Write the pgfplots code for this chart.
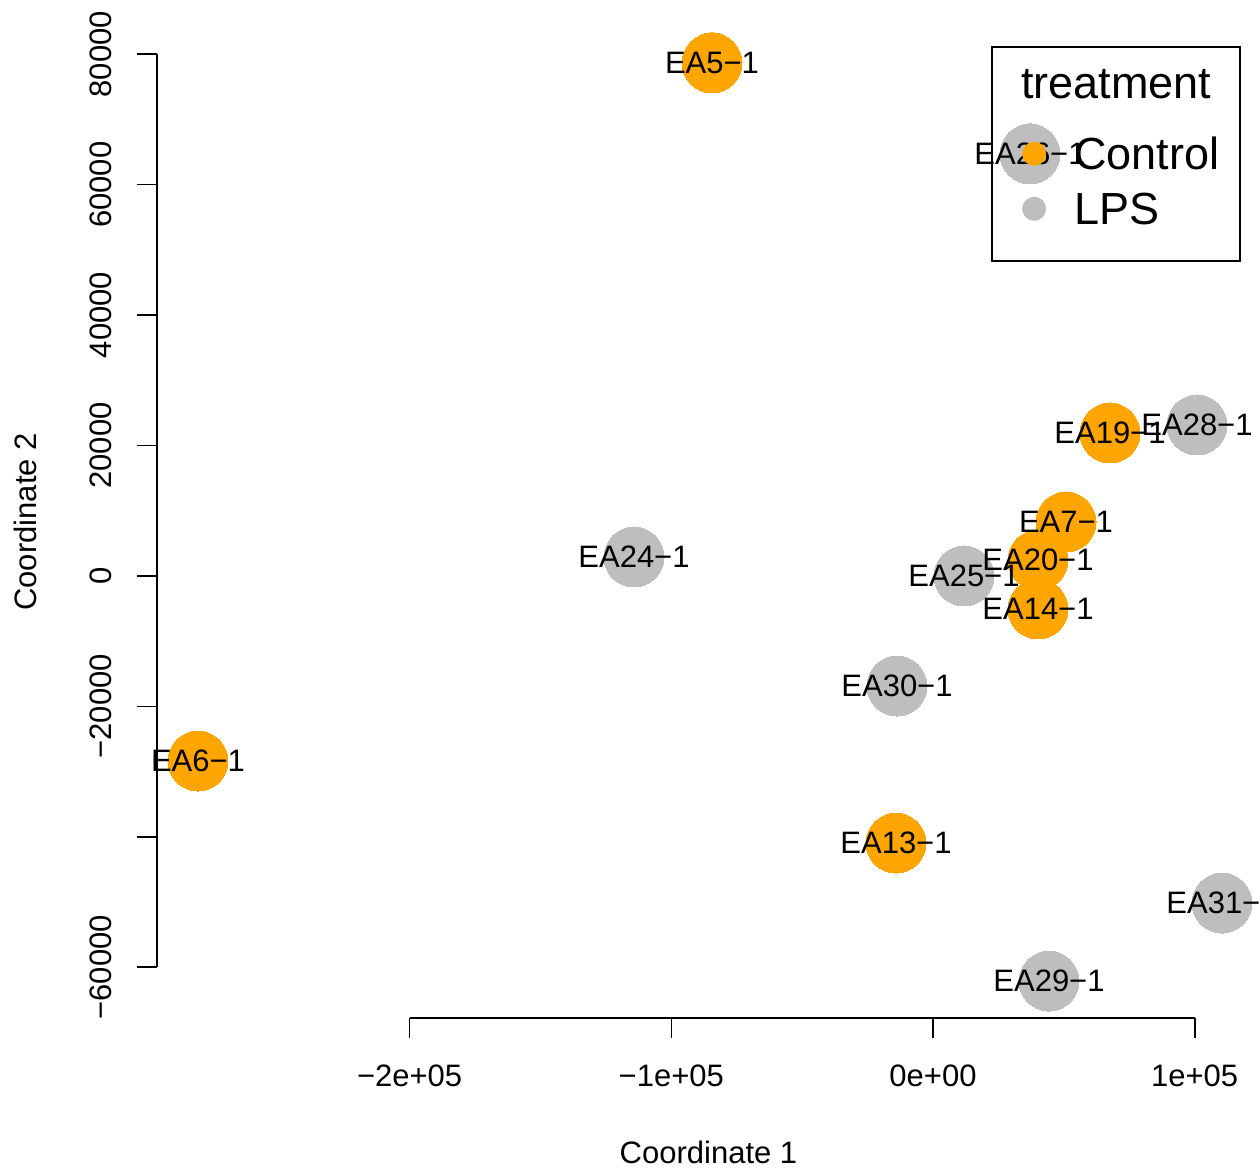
\documentclass[border=0pt]{standalone}
\usepackage{fontspec}
\setmainfont{Liberation Sans}
\usepackage{pgfplots}
\pgfplotsset{compat=1.18}
\usepackage{pgfplotstable}
\definecolor{rorange}{RGB}{255,165,0}
\definecolor{rgray}{RGB}{190,190,190}

\pgfplotstableread{
x y label
-84448 78679 EA5−1
67635 21932 EA19−1
50822 8282 EA7−1
40122 2454 EA20−1
40122 -5061 EA14−1
-280856 -28373 EA6−1
-14138 -40950 EA13−1
}\controltab

\pgfplotstableread{
x y label
37066 64722 EA26−1
100879 23159 EA28−1
11846 0 EA25−1
-114253 2914 EA24−1
-13756 -16871 EA30−1
110432 -50152 EA31−1
44326 -62115 EA29−1
}\lpstab

\newcommand\lstrut{\rule[-8pt]{0pt}{27pt}}
\newcommand\tstrut{\rule[-16pt]{0pt}{35pt}}

\begin{document}
\begin{tikzpicture}
\path[use as bounding box] (0pt,0pt) rectangle (630pt,584pt);
\begin{axis}[
  scale only axis, width=551.5pt, height=496pt,
  at={(78.5pt,75pt)}, anchor=south west,
  xmin=-296523, xmax=124952, ymin=-67776, ymax=84337,
  axis x line*=bottom, axis y line*=left,
  axis line style={draw=none},
  clip=false,
  scaled ticks=false,
  tick align=outside, major tick length=10pt,
  tick style={black, line width=0.8pt},
  minor tick num=0,
  xtick={-200000,-100000,0,100000},
  xticklabels={−2e+05,−1e+05,0e+00,1e+05},
  ytick={-60000,-40000,-20000,0,20000,40000,60000,80000},
  yticklabels={−60000,,−20000,0,20000,40000,60000,80000},
  ticklabel style={font=\fontsize{15.5}{18}\selectfont},
  xticklabel style={anchor=base},
  xticklabel shift=24.5pt,
  yticklabel style={rotate=90, anchor=base},
  yticklabel shift=12.5pt,
  label style={font=\fontsize{15.5}{18}\selectfont},
  xlabel={Coordinate 1},
  ylabel={Coordinate 2},
  xlabel style={at={(axis description cs:0.5,-0.1462)}, anchor=base},
  ylabel style={at={(axis description cs:-0.1088,0.5)}, anchor=base},
  legend style={at={(axis description cs:0.98277,0.97984)}, anchor=north east,
    draw=black, line width=0.8pt, fill=none,
    inner xsep=10.5pt, inner ysep=8.5pt,
    font=\fontsize{22.5}{27}\selectfont,
    nodes={inner sep=0pt, text height=, text depth=},
    row sep=0.5pt, column sep=9.5pt},
  legend cell align=left,
]
\addlegendimage{empty legend}
\addlegendentry{\hspace*{-26.5pt}treatment\raisebox{-1.5pt}{\tstrut}}

\addplot[only marks, color=rorange, mark=*, mark size=15pt,
  mark options={draw=rorange, fill=rorange, line width=0pt},
  legend image code/.code={\path[draw=none, fill=none] (0pt,-10pt) rectangle (21pt,10pt);
    \fill[rorange, draw=none] (10.5pt,4pt) circle (6pt);}]
  table[x=x, y=y] {\controltab};
\addlegendentry{Control\raisebox{-1.5pt}{\lstrut}}

\addplot[only marks, color=rgray, mark=*, mark size=15pt,
  mark options={draw=rgray, fill=rgray, line width=0pt},
  legend image code/.code={\path[draw=none, fill=none] (0pt,-10pt) rectangle (21pt,10pt);
    \fill[rgray, draw=none] (10.5pt,4pt) circle (6pt);}]
  table[x=x, y=y] {\lpstab};
\addlegendentry{LPS\raisebox{-1.5pt}{\lstrut}}

\addplot[forget plot, only marks, mark=*, mark size=0pt,
  mark options={draw=none, fill=none},
  nodes near coords, point meta=explicit symbolic,
  nodes near coords align={center},
  every node near coord/.append style={anchor=center, inner sep=0pt,
    text=black, font=\fontsize{15.5}{18}\selectfont}]
  table[x=x, y=y, meta=label] {\lpstab};
\addplot[forget plot, only marks, mark=*, mark size=0pt,
  mark options={draw=none, fill=none},
  nodes near coords, point meta=explicit symbolic,
  nodes near coords align={center},
  every node near coord/.append style={anchor=center, inner sep=0pt,
    text=black, font=\fontsize{15.5}{18}\selectfont}]
  table[x=x, y=y, meta=label] {\controltab};

\draw[line width=0.8pt] (axis cs:-200000,-67776) -- (axis cs:100000,-67776);
\draw[line width=0.8pt] (axis cs:-296523,-60000) -- (axis cs:-296523,80000);
\end{axis}
\end{tikzpicture}
\end{document}
